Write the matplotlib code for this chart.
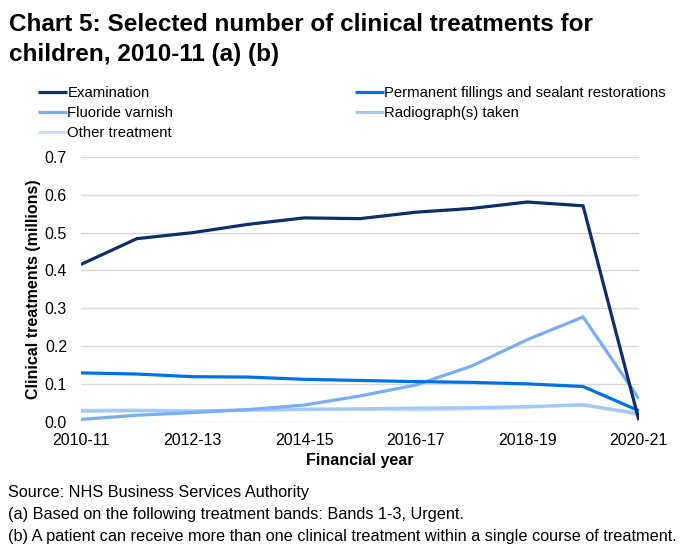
import matplotlib
matplotlib.use("Agg")
import matplotlib.pyplot as plt

plt.rcParams['font.family'] = ['Liberation Sans', 'DejaVu Sans']

years = ["2010-11", "2011-12", "2012-13", "2013-14", "2014-15", "2015-16",
         "2016-17", "2017-18", "2018-19", "2019-20", "2020-21"]
tick_labels = ["2010-11", "2012-13", "2014-15", "2016-17", "2018-19", "2020-21"]

examination = [0.416, 0.484, 0.500, 0.522, 0.539, 0.537, 0.554, 0.564, 0.581, 0.571, 0.004]
permanent = [0.129, 0.126, 0.119, 0.118, 0.112, 0.109, 0.106, 0.104, 0.100, 0.093, 0.029]
fluoride = [0.006, 0.017, 0.024, 0.032, 0.044, 0.068, 0.097, 0.147, 0.217, 0.277, 0.061]
radiograph = [0.028, 0.029, 0.028, 0.031, 0.033, 0.034, 0.036, 0.037, 0.040, 0.044, 0.022]
other = [0.030, 0.031, 0.029, 0.030, 0.032, 0.033, 0.031, 0.034, 0.038, 0.046, 0.018]

series = [
    ("Examination", examination, "#0d2d6c"),
    ("Permanent fillings and sealant restorations", permanent, "#0072e5"),
    ("Fluoride varnish", fluoride, "#78aef5"),
    ("Radiograph(s) taken", radiograph, "#a3c8f7"),
    ("Other treatment", other, "#c8defb"),
]

fig = plt.figure(figsize=(6.84, 5.58), dpi=100)
ax = fig.add_axes([0.1184, 0.2443, 0.8156, 0.4743])

x = list(range(len(years)))
handles = {}
for name, vals, col in reversed(series):
    h, = ax.plot(x, vals, color=col, lw=2.3, solid_capstyle='butt', solid_joinstyle='miter')
    handles[name] = h

ax.set_xlim(0, len(years) - 1)
ax.set_ylim(0, 0.7)
yt = [0.0, 0.1, 0.2, 0.3, 0.4, 0.5, 0.6, 0.7]
ax.set_yticks(yt)
ax.set_yticklabels([f"{v:.1f}" for v in yt])
ax.set_xticks([years.index(t) for t in tick_labels])
ax.set_xticklabels(tick_labels)
ax.tick_params(axis='both', length=0, labelsize=11.5, colors='#000000')
ax.tick_params(axis='y', pad=10)
ax.tick_params(axis='x', pad=8)
ax.grid(axis='y', color='#d9d9d9', lw=1)
ax.set_axisbelow(True)
for s in ax.spines.values():
    s.set_visible(False)

ax.set_ylabel("Clinical treatments (millions)", fontsize=11.5, fontweight='bold', labelpad=3)
ax.set_xlabel("Financial year", fontsize=11.5, fontweight='bold', labelpad=4)

order = ["Examination", "Fluoride varnish", "Other treatment",
         "Permanent fillings and sealant restorations", "Radiograph(s) taken"]
leg = fig.legend([handles[n] for n in order], order, ncol=2, loc='upper left',
                 bbox_to_anchor=(0.056, 0.846), frameon=False, fontsize=10.7,
                 handlelength=1.95, handletextpad=0.0, columnspacing=12.2,
                 labelspacing=0.42, borderaxespad=0, borderpad=0)

fig.text(0.013, 0.976, "Chart 5: Selected number of clinical treatments for\nchildren, 2010-11 (a) (b)",
         fontsize=17.5, fontweight='bold', va='top', ha='left', linespacing=1.38)

notes = ["Source: NHS Business Services Authority",
         "(a) Based on the following treatment bands: Bands 1-3, Urgent.",
         "(b) A patient can receive more than one clinical treatment within a single course of treatment."]
for i, t in enumerate(notes):
    fig.text(0.012, 1 - (493 + 22 * i) / 558, t, fontsize=11.7, va='center', ha='left')

fig.savefig("out.png", dpi=100)
